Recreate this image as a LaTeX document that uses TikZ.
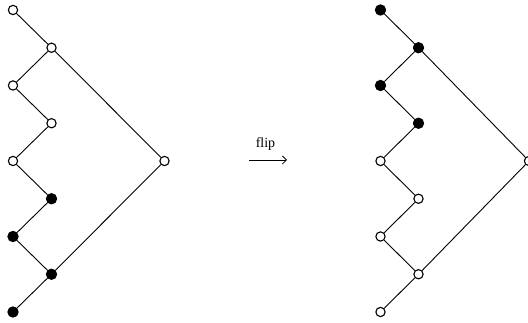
\documentclass[tikz,border=0pt]{standalone}
\usepackage{fontspec}
\setmainfont{Liberation Serif}
\usetikzlibrary{arrows.meta}
\begin{document}
\begin{tikzpicture}[x=1pt,y=1pt,
  op/.style={circle,draw=black,fill=white,line width=1.1pt,inner sep=0pt,minimum size=9.3pt},
  cl/.style={circle,draw=black,fill=black,line width=1pt,inner sep=0pt,minimum size=10.3pt},
  edge/.style={line width=0.9pt}]
\useasboundingbox (0,0) rectangle (528,323);
% left tree (image y -> 323 - y)
\node[op] (a0) at (13,313) {};
\node[op] (a1) at (51.5,275.25) {};
\node[op] (a2) at (13,237.5) {};
\node[op] (a3) at (51.5,199.75) {};
\node[op] (a4) at (13,162) {};
\node[cl] (a5) at (51.5,124.25) {};
\node[cl] (a6) at (13,86.5) {};
\node[cl] (a7) at (51.5,48.75) {};
\node[cl] (a8) at (13,11) {};
\node[op] (aR) at (164.5,162) {};
\draw[edge] (a0)--(a1) (a1)--(a2) (a2)--(a3) (a3)--(a4) (a4)--(a5) (a5)--(a6) (a6)--(a7) (a7)--(a8) (a1)--(aR) (a7)--(aR);
% right tree
\node[cl] (b0) at (380.5,313) {};
\node[cl] (b1) at (418.5,275.25) {};
\node[cl] (b2) at (380.5,237.5) {};
\node[cl] (b3) at (418.5,199.75) {};
\node[op] (b4) at (380.5,162) {};
\node[op] (b5) at (418.5,124.25) {};
\node[op] (b6) at (380.5,86.5) {};
\node[op] (b7) at (418.5,48.75) {};
\node[op] (b8) at (380.5,11) {};
\node[op] (bR) at (529,162) {};
\draw[edge] (b0)--(b1) (b1)--(b2) (b2)--(b3) (b3)--(b4) (b4)--(b5) (b5)--(b6) (b6)--(b7) (b7)--(b8) (b1)--(bR) (b7)--(bR);
% arrow
\coordinate (s) at (249,163);
\coordinate (e) at (287,163);
\draw[line width=0.8pt,-{Straight Barb[length=4pt,width=8pt]}] (s) -- (e);
\node[font=\fontsize{14}{16}\selectfont,anchor=base,inner sep=0pt] (lab) at (265.5,175.5) {flip};
\end{tikzpicture}
\end{document}
